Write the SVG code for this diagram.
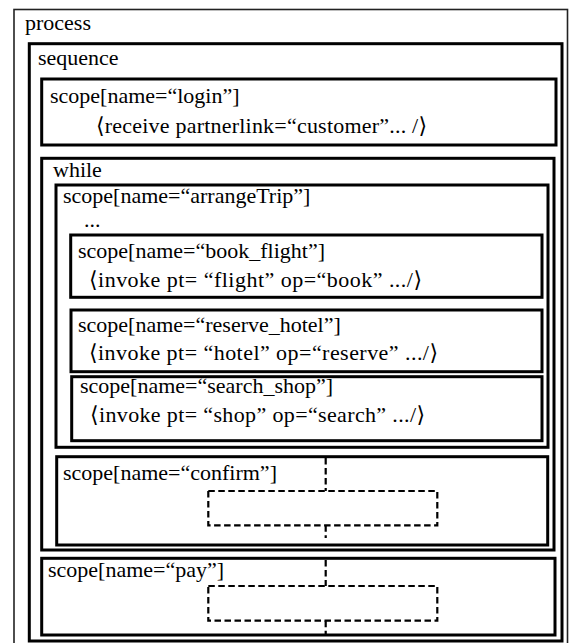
<svg xmlns="http://www.w3.org/2000/svg" width="569" height="643" viewBox="0 0 569 643">
<style>
.box{fill:none;stroke:#000;stroke-width:3}
.outer{fill:none;stroke:#222;stroke-width:1.6}
.dash{fill:none;stroke:#000;stroke-width:2.2;stroke-dasharray:6.5,3.5}
text{font-family:"Liberation Serif","DejaVu Serif",serif;font-size:22px;fill:#000}
</style>
<rect width="569" height="643" fill="#fff"/>
<g id="process">
<rect class="outer" x="14" y="9.5" width="553.5" height="640"/>
<text x="25" y="30">process</text>
</g>
<g id="sequence">
<rect class="box" x="29.3" y="43.7" width="532.7" height="597.3"/>
<text x="38" y="65">sequence</text>
</g>
<g id="login">
<rect class="box" x="41.7" y="79" width="514.3" height="66"/>
<text x="50" y="103">scope[name=“login”]</text>
<text x="96" y="133" textLength="331" lengthAdjust="spacing">⟨receive partnerlink=“customer”... /⟩</text>
</g>
<g id="while">
<rect class="box" x="41.7" y="158.3" width="512.3" height="391.7"/>
<text x="53" y="177">while</text>
</g>
<g id="arrangeTrip">
<rect class="box" x="56" y="185" width="492" height="262.3"/>
<text x="63" y="203">scope[name=“arrangeTrip”]</text>
<text x="84" y="227">...</text>
</g>
<g id="book_flight">
<rect class="box" x="70.7" y="235" width="471.3" height="62.3"/>
<text x="78" y="258">scope[name=“book_flight”]</text>
<text x="89" y="287" textLength="333" lengthAdjust="spacing">⟨invoke pt= “flight” op=“book” .../⟩</text>
</g>
<g id="reserve_hotel">
<rect class="box" x="71" y="310" width="471" height="61.7"/>
<text x="78" y="332">scope[name=“reserve_hotel”]</text>
<text x="89" y="360" textLength="349" lengthAdjust="spacing">⟨invoke pt= “hotel” op=“reserve” .../⟩</text>
</g>
<g id="search_shop">
<rect class="box" x="71.7" y="376.7" width="470.3" height="64"/>
<text x="80" y="393">scope[name=“search_shop”]</text>
<text x="90" y="422" textLength="335" lengthAdjust="spacing">⟨invoke pt= “shop” op=“search” .../⟩</text>
</g>
<g id="confirm">
<rect class="box" x="56.7" y="456.7" width="491" height="88.3"/>
<text x="63" y="480">scope[name=“confirm”]</text>
</g>
<g id="pay">
<rect class="box" x="41.7" y="558.3" width="513.3" height="76.7"/>
<text x="48" y="577">scope[name=“pay”]</text>
</g>
<g id="connectors">
<line class="dash" x1="325.7" y1="458" x2="325.7" y2="491"/>
<rect class="dash" x="208.3" y="491" width="229" height="34.3"/>
<line class="dash" x1="325.7" y1="525.3" x2="325.7" y2="538"/>
<line class="dash" x1="325.7" y1="560" x2="325.7" y2="586"/>
<rect class="dash" x="208.3" y="586" width="229" height="34.7"/>
<line class="dash" x1="325.7" y1="620.7" x2="325.7" y2="634"/>
</g>
</svg>
